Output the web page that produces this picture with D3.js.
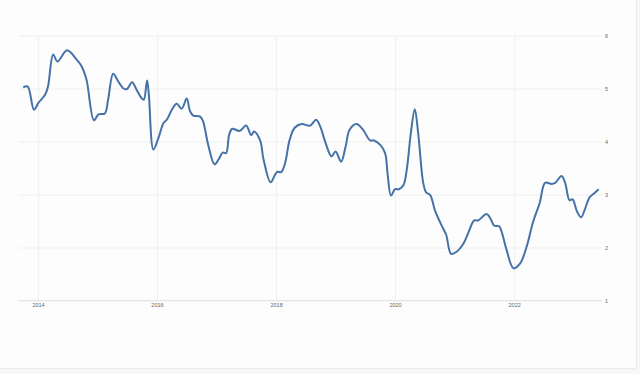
<!DOCTYPE html>
<html>
<head>
<meta charset="utf-8">
<script src="https://cdn.jsdelivr.net/npm/d3@7"></script>
<style>
  html, body { margin: 0; padding: 0; background: #f7f7f7; }
  #frame { width: 636px; height: 368px; background: #fdfdfd; border-right: 1px solid #ececec; border-bottom: 1px solid #ececec; }
  svg { display: block; font-family: "Open Sans", "DejaVu Sans", sans-serif; }
</style>
</head>
<body>
<div id="frame"><svg id="chart" width="636" height="368"></svg></div>
<script>
// dates of the points
const dates = [
  "2013-10-02","2013-10-29","2013-12-07","2014-01-03","2014-02-13","2014-03-03","2014-04-04","2014-04-30",
  "2014-06-28","2014-08-25","2014-09-25","2014-10-25","2014-12-10","2015-01-07","2015-02-15","2015-03-07",
  "2015-04-07","2015-05-07","2015-06-10","2015-07-01","2015-08-01","2015-08-28","2015-09-28","2015-10-12",
  "2015-11-01","2015-11-12","2015-12-10","2016-01-10","2016-02-10","2016-03-01","2016-04-01","2016-05-01",
  "2016-06-01","2016-07-01","2016-07-22","2016-08-10","2016-09-22","2016-10-10","2016-11-10","2016-12-19",
  "2017-01-13","2017-02-07","2017-02-28","2017-03-19","2017-04-07","2017-05-22","2017-07-01","2017-08-01",
  "2017-08-19","2017-09-25","2017-10-16","2017-11-28","2017-12-25","2018-01-10","2018-02-01","2018-02-25",
  "2018-03-25","2018-04-25","2018-06-07","2018-07-28","2018-09-04","2018-09-28","2018-11-01","2018-12-07",
  "2019-01-01","2019-02-04","2019-03-04","2019-03-28","2019-05-10","2019-06-19","2019-08-01","2019-08-25",
  "2019-10-01","2019-11-01","2019-11-16","2019-12-07","2020-01-01","2020-01-25","2020-02-22","2020-03-13",
  "2020-04-07","2020-05-01","2020-05-22","2020-06-22","2020-07-10","2020-08-04","2020-09-04","2020-10-22",
  "2020-11-10","2020-12-10","2021-01-13","2021-02-25","2021-03-25","2021-05-01","2021-05-25","2021-07-16",
  "2021-08-13","2021-09-01","2021-10-01","2021-10-16","2021-11-16","2021-12-28","2022-02-07","2022-03-19",
  "2022-04-28","2022-06-07","2022-07-10","2022-08-19","2022-09-10","2022-10-19","2022-11-10","2022-12-07",
  "2022-12-25","2023-01-22","2023-02-16","2023-03-10","2023-04-10","2023-05-10","2023-06-04"
];
const values = [
  5.02,5.04,4.60,4.73,4.88,5.04,5.64,5.51,
  5.72,5.55,5.42,5.17,4.40,4.51,4.53,4.79,
  5.28,5.14,5.00,4.99,5.12,4.98,4.82,4.79,
  5.15,4.88,3.85,4.07,4.35,4.41,4.60,4.71,
  4.62,4.81,4.57,4.49,4.47,4.38,3.94,3.57,
  3.66,3.79,3.78,4.13,4.24,4.20,4.30,4.12,
  4.19,4.02,3.66,3.23,3.37,3.43,3.42,3.59,
  4.03,4.26,4.33,4.30,4.41,4.29,3.97,3.72,
  3.81,3.62,3.91,4.22,4.33,4.22,4.02,4.02,
  3.94,3.78,3.40,2.98,3.10,3.10,3.18,3.47,
  4.16,4.61,4.16,3.22,3.04,2.99,2.68,2.36,
  2.24,1.88,1.92,2.08,2.27,2.51,2.51,2.63,
  2.52,2.41,2.40,2.30,1.95,1.61,1.70,2.02,
  2.49,2.84,3.22,3.20,3.22,3.35,3.22,2.89,
  2.91,2.68,2.57,2.71,2.95,3.03,3.10
];
const xTicks = ["2014-01-01","2016-01-01","2018-01-01","2020-01-01","2022-01-01"];
const yTicks = [1, 2, 3, 4, 5, 6];

const parse = d3.timeParse("%Y-%m-%d");
const data = dates.map((d, i) => ({ date: parse(d), value: values[i] }));

const svg = d3.select("#chart");
const plotLeft = 19, plotRight = 602, plotTop = 35.5, plotBottom = 300.5;

const x = d3.scaleTime()
    .domain([parse("2013-09-06"), parse("2023-06-12")])
    .range([plotLeft, 600]);
const y = d3.scaleLinear()
    .domain([1, 6])
    .range([plotBottom, plotTop]);

// horizontal grid + right labels
const yAxis = d3.axisRight(y)
    .tickValues(yTicks)
    .tickSize(-(plotRight - plotLeft))
    .tickPadding(3)
    .tickFormat(d3.format("d"));
svg.append("g")
    .attr("transform", `translate(${plotRight},0)`)
    .call(yAxis)
    .call(g => g.select(".domain").remove())
    .call(g => g.selectAll("line").attr("stroke", "#efefef").attr("stroke-width", 1))
    .call(g => g.selectAll("text").attr("fill", "#666").attr("font-size", 5.5));

// vertical grid + bottom labels
const xAxis = d3.axisBottom(x)
    .tickValues(xTicks.map(parse))
    .tickSize(-(plotBottom - plotTop))
    .tickPadding(3)
    .tickFormat(d3.timeFormat("%Y"));
svg.append("g")
    .attr("transform", `translate(0,${plotBottom})`)
    .call(xAxis)
    .call(g => g.select(".domain").remove())
    .call(g => g.selectAll("line").attr("stroke", "#f0f0f0").attr("stroke-width", 1))
    .call(g => g.selectAll("text").attr("fill", "#666").attr("font-size", 5.5));

svg.append("line")
    .attr("x1", plotLeft).attr("x2", plotRight)
    .attr("y1", plotBottom).attr("y2", plotBottom)
    .attr("stroke", "#e4e4e4");

const line = d3.line()
    .x(d => x(d.date))
    .y(d => y(d.value))
    .curve(d3.curveCatmullRom.alpha(0.5));

svg.append("path")
    .datum(data)
    .attr("fill", "none")
    .attr("stroke", "#4572a7")
    .attr("stroke-width", 2)
    .attr("stroke-linejoin", "round")
    .attr("d", line);
</script>
</body>
</html>
